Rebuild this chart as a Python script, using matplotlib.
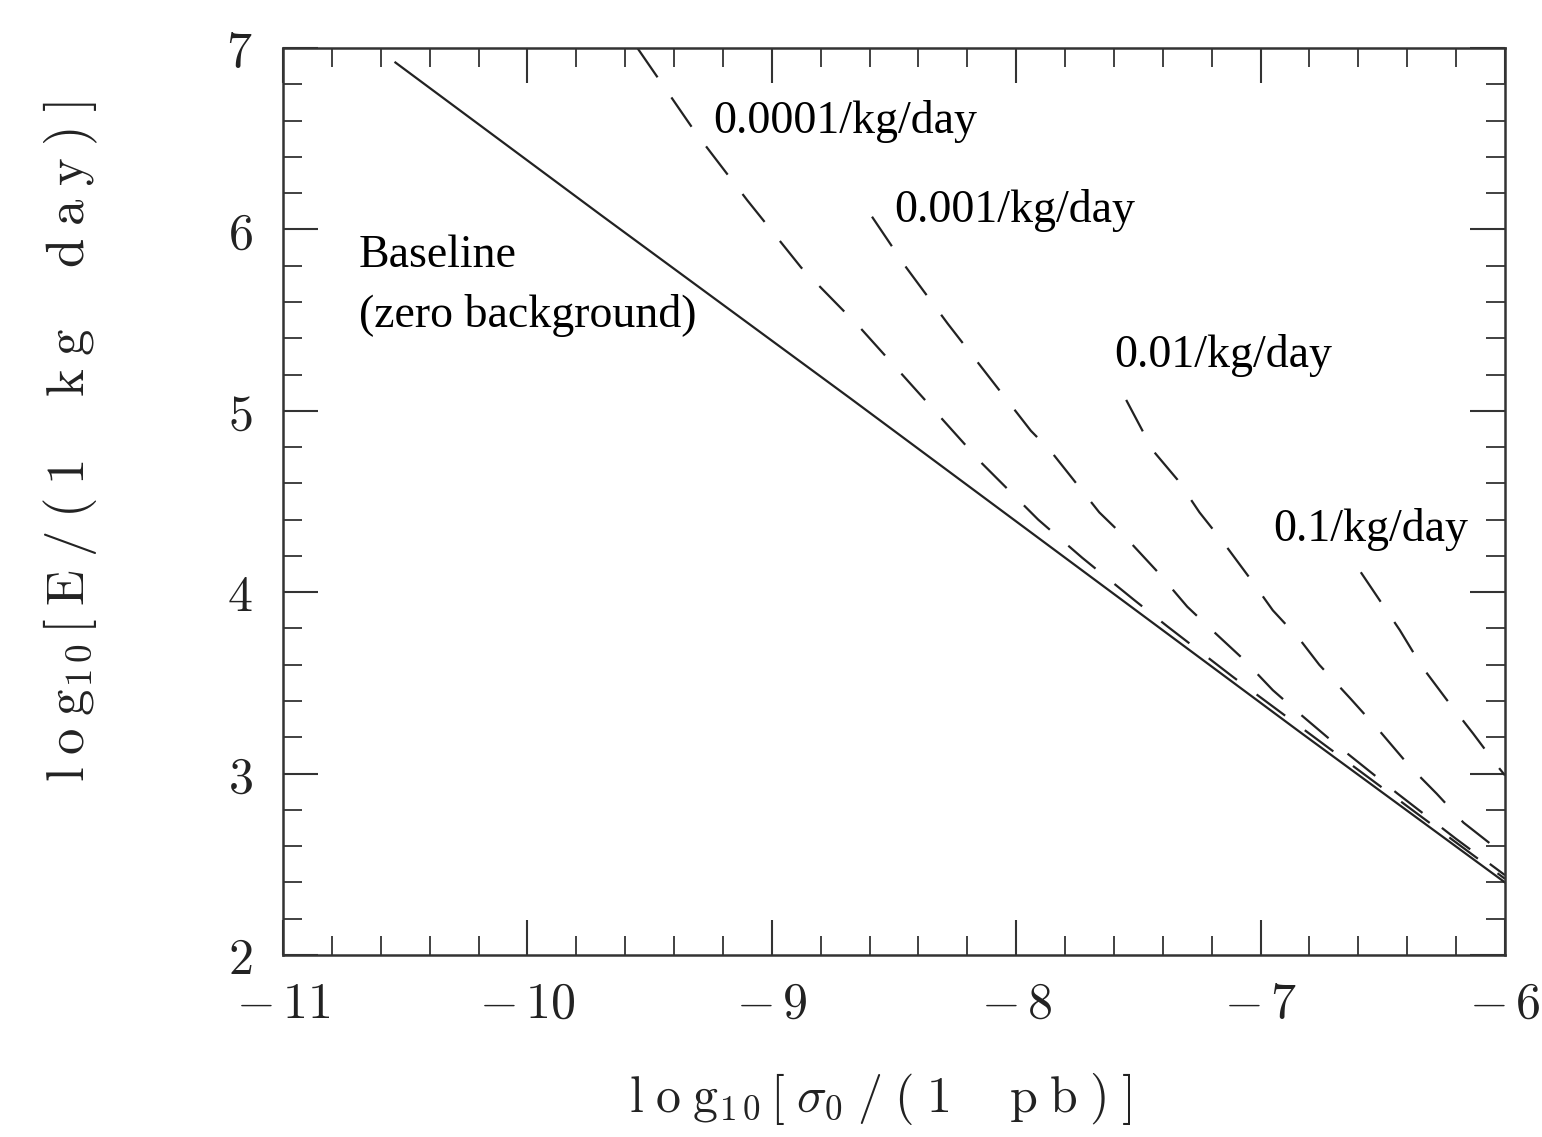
import matplotlib
matplotlib.use("Agg")
import matplotlib.pyplot as plt
from matplotlib.ticker import MultipleLocator

plt.rcParams['mathtext.fontset'] = 'cm'
plt.rcParams['axes.unicode_minus'] = True

# ---- data ----
baseline_x = [-10.54, -9.70, -8.68, -8.27, -7.66, -6.84, -6.00]
baseline_y = [6.92, 6.08, 5.07, 4.66, 4.05, 3.23, 2.40]

bg_0001_x = [-9.55, -9.31, -9.10, -8.88, -8.64, -8.34, -8.14, -7.91, -7.73, -7.52, -7.38, -7.11, -6.50, -6.00]
bg_0001_y = [7.00, 6.53, 6.16, 5.79, 5.46, 5.01, 4.71, 4.40, 4.19, 3.96, 3.81, 3.53, 2.92, 2.42]

bg_001_x = [-8.59, -8.45, -8.28, -8.09, -7.94, -7.86, -7.66, -7.53, -7.42, -7.30, -7.19, -7.07, -6.95, -6.84, -6.70, -6.44, -6.20, -6.00]
bg_001_y = [6.07, 5.79, 5.48, 5.15, 4.89, 4.78, 4.44, 4.27, 4.11, 3.92, 3.78, 3.63, 3.46, 3.33, 3.17, 2.89, 2.64, 2.44]

bg_01_x = [-7.55, -7.44, -7.34, -7.25, -7.15, -7.04, -6.95, -6.84, -6.76, -6.63, -6.51, -6.39, -6.28, -6.17, -6.00]
bg_01_y = [5.06, 4.78, 4.62, 4.44, 4.27, 4.07, 3.90, 3.74, 3.60, 3.41, 3.23, 3.04, 2.89, 2.73, 2.55]

bg_1_x = [-6.59, -6.52, -6.43, -6.34, -6.24, -6.13, -6.03, -6.00]
bg_1_y = [4.11, 3.97, 3.79, 3.59, 3.41, 3.22, 3.04, 2.99]

labels = ["Baseline", "(zero background)", "0.0001/kg/day", "0.001/kg/day", "0.01/kg/day", "0.1/kg/day"]
label_x = [-10.69, -10.69, -9.24, -8.50, -7.60, -6.95]
label_y = [5.79, 5.46, 6.53, 6.04, 5.24, 4.28]

xticks = [-11, -10, -9, -8, -7, -6]
yticks = [2, 3, 4, 5, 6, 7]

# ---- figure ----
fig = plt.figure(figsize=(15.42, 11.37), dpi=100)
ax = fig.add_axes([283/1542, 1-955/1137, (1505-283)/1542, (955-48)/1137])

line_col = '#222222'
ax.plot(baseline_x, baseline_y, color=line_col, lw=1.6)
for xs, ys in [(bg_0001_x, bg_0001_y), (bg_001_x, bg_001_y), (bg_01_x, bg_01_y), (bg_1_x, bg_1_y)]:
    l, = ax.plot(xs, ys, color=line_col, lw=1.6)
    l.set_dashes([16, 11])

ax.set_xlim(-11, -6)
ax.set_ylim(2, 7)
ax.xaxis.set_minor_locator(MultipleLocator(0.2))
ax.yaxis.set_minor_locator(MultipleLocator(0.2))
ax.set_xticks(xticks)
ax.set_yticks(yticks)
ax.set_xticklabels([r'$-\,%d$' % abs(v) for v in xticks])
ax.set_yticklabels([r'$%d$' % v for v in yticks])

ax.tick_params(which='both', direction='in', top=True, right=True, colors='#333333', labelcolor='#222222')
ax.tick_params(which='major', length=25, width=1.5, labelsize=36)
ax.tick_params(axis='x', which='major', pad=18)
ax.tick_params(axis='y', which='major', pad=22)
ax.tick_params(which='minor', length=14, width=1.3)
for s in ax.spines.values():
    s.set_linewidth(1.8)
    s.set_color('#333333')

ax.set_xlabel(r'$\mathrm{l\;o\;g}_{1\,0}\,[\;\sigma_{0}\;/\;(\;1\ \ \ \ \mathrm{p\;b}\;)\;]$',
              fontsize=36, color='#222222')
ax.xaxis.set_label_coords(0.4885, -0.128)
ax.set_ylabel(r'$\mathrm{l\;o\;g}_{1\,0}\,[\;\mathrm{E}\;/\;(\;1\ \ \ \ \mathrm{k\;g}\ \ \ \ \mathrm{d\;a\;y}\;)\;]$',
              fontsize=38, color='#222222')
ax.yaxis.set_label_coords(-0.150, 0.566)

serif = ['Liberation Serif', 'DejaVu Serif']
for t, x, y in zip(labels, label_x, label_y):
    ax.text(x, y, t, family=serif, fontsize=33, va='baseline', ha='left', color='black')

fig.savefig('out.png', dpi=100, facecolor='white')
